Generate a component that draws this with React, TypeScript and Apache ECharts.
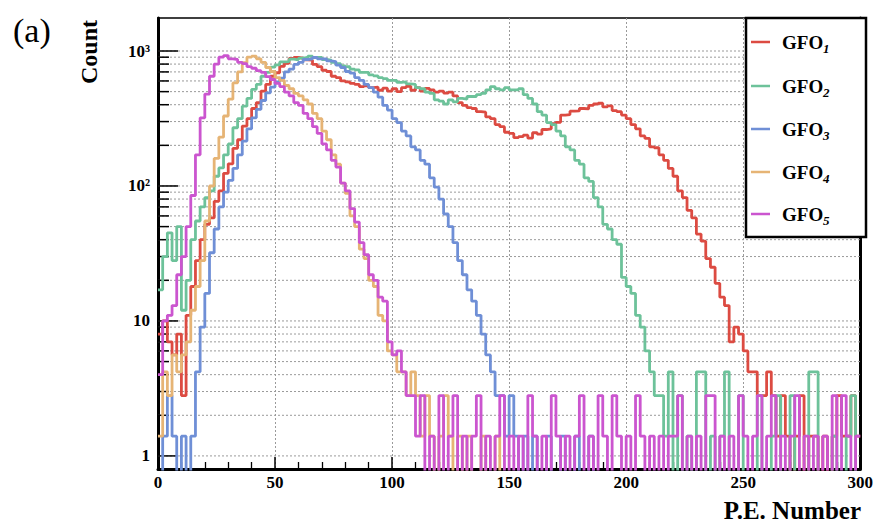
import React, { useEffect, useRef } from 'react';
import * as echarts from 'echarts';

// ---- axis ranges / ticks ----
const X_MIN = 0;
const X_MAX = 300;
const BIN_WIDTH = 2;
const Y_MIN = 0.8;
const Y_MAX = 1756;
const xTickInterval = 50;
const yGridValues = [1, 2, 3, 4, 5, 6, 7, 8, 9, 10, 20, 30, 40, 50, 60, 70, 80, 90, 100, 200, 300, 400, 500, 600, 700, 800, 900, 1000];
const yDecades = [1, 10, 100, 1000];
const yTickLabels: Record<string, string> = { '1': '1', '10': '10', '100': '10²', '1000': '10³' };

// ---- series ----
const seriesSubscripts = ['1', '2', '3', '4', '5'];
const seriesColors = ['#dc4b42', '#6dc29a', '#6f8fd6', '#e6b475', '#cb55cf'];

// counts per 2-P.E. bin, bins start at 0, 2, 4, ... 298
const gfo1 = [
  8, 10, 7, 5.6, 8, 2.8, 11, 18, 28, 40,
  52, 58, 77, 92, 124, 146, 190, 220, 278, 315,
  375, 415, 505, 565, 650, 690, 770, 810, 880, 895,
  885, 860, 855, 795, 765, 720, 705, 650, 635, 600,
  590, 575, 565, 545, 552, 535, 540, 512, 530, 505,
  525, 500, 535, 548, 512, 535, 505, 528, 515, 495,
  505, 488, 495, 465, 415, 395, 380, 375, 355, 352,
  325, 315, 285, 275, 250, 245, 228, 232, 238, 226,
  248, 242, 262, 265, 290, 296, 335, 338, 358, 360,
  375, 372, 395, 405, 410, 385, 392, 362, 355, 335,
  315, 285, 265, 235, 225, 195, 192, 170, 155, 135,
  118, 92, 82, 66, 58, 44, 39, 29, 25, 19,
  15, 13, 7, 9, 8, 6, 4.2, 4.2, 2.8, 2.8,
  4.2, 2.8, 1.4, 2.8, 1.4, 0, 1.4, 2.8, 0, 1.4,
  1.4, 0, 1.4, 0, 1.4, 2.8, 1.4, 1.4, 2.8, 1.4,
];
const gfo2 = [
  17, 30, 45, 28, 50, 12, 20, 40, 55, 70,
  82, 92, 118, 136, 170, 205, 270, 315, 390, 445,
  520, 565, 650, 695, 760, 790, 830, 835, 870, 860,
  885, 895, 915, 895, 895, 865, 855, 825, 805, 775,
  765, 735, 725, 695, 695, 665, 655, 635, 625, 605,
  605, 585, 590, 570, 565, 535, 525, 495, 485, 435,
  425, 405, 435, 420, 445, 440, 460, 460, 475, 485,
  515, 545, 525, 515, 535, 515, 515, 525, 475, 445,
  405, 355, 335, 295, 285, 255, 235, 195, 185, 155,
  145, 115, 108, 82, 70, 52, 48, 40, 37, 21,
  18, 16, 11, 9, 6, 4.2, 2.8, 2.8, 1.4, 4.2,
  0, 2.8, 0, 1.4, 0, 4.2, 4.2, 0, 1.4, 0,
  1.4, 4.2, 0, 0, 2.8, 0, 0, 0, 2.8, 0,
  0, 1.4, 2.8, 0, 0, 2.8, 0, 0, 0, 4.2,
  4.2, 0, 0, 0, 1.4, 0, 0, 1.4, 2.8, 0,
];
const gfo3 = [
  0, 1.4, 2.8, 1.4, 0, 1.4, 0, 1.4, 4.2, 9,
  16, 32, 48, 70, 90, 110, 135, 170, 215, 265,
  320, 370, 430, 490, 540, 590, 630, 700, 735, 795,
  825, 865, 875, 895, 875, 875, 845, 835, 785, 755,
  705, 685, 635, 605, 565, 535, 495, 455, 395, 365,
  315, 295, 255, 235, 195, 185, 155, 145, 115, 98,
  80, 62, 50, 38, 28, 22, 17, 14, 11, 8,
  5.6, 4.2, 2.8, 2.8, 1.4, 2.8, 1.4, 0, 1.4, 0,
  1.4, 0, 0, 1.4, 0, 0, 1.4, 0, 0, 1.4,
  0, 0, 1.4, 0, 0, 0, 0, 0, 0, 0,
  0, 0, 0, 0, 0, 0, 0, 0, 0, 0,
  0, 0, 0, 0, 0, 0, 0, 0, 0, 0,
  0, 0, 0, 0, 0, 0, 0, 0, 0, 0,
  0, 0, 0, 0, 0, 0, 0, 0, 0, 0,
  0, 0, 0, 0, 0, 0, 0, 0, 0, 0,
];
const gfo4 = [
  1.4, 4.2, 2.8, 5.6, 4.2, 5.6, 7, 12, 18, 28,
  55, 100, 160, 230, 330, 440, 580, 700, 820, 900,
  915, 875, 825, 755, 705, 635, 605, 555, 525, 485,
  465, 435, 405, 345, 315, 255, 220, 170, 145, 105,
  88, 60, 50, 34, 29, 20, 18, 11, 10, 6,
  5.6, 4.2, 4.2, 2.8, 4.2, 2.8, 1.4, 2.8, 1.4, 0,
  1.4, 2.8, 1.4, 0, 1.4, 0, 1.4, 0, 0, 1.4,
  0, 0, 1.4, 0, 0, 0, 0, 0, 0, 0,
  0, 0, 0, 0, 0, 0, 0, 0, 0, 0,
  0, 0, 0, 0, 0, 0, 0, 0, 0, 0,
  0, 0, 0, 0, 0, 0, 0, 0, 0, 0,
  0, 0, 0, 0, 0, 0, 0, 0, 0, 0,
  0, 0, 0, 0, 0, 0, 0, 0, 0, 0,
  0, 0, 0, 0, 0, 0, 0, 0, 0, 0,
  0, 0, 0, 0, 0, 0, 0, 0, 0, 0,
];
const gfo5 = [
  4, 10, 11, 13, 22, 30, 50, 85, 170, 320,
  480, 650, 800, 900, 925, 875, 865, 825, 805, 765,
  745, 715, 695, 645, 615, 575, 545, 495, 465, 415,
  395, 345, 315, 275, 245, 205, 185, 155, 138, 105,
  92, 68, 54, 38, 31, 22, 20, 15, 14, 7,
  5.6, 6, 4.2, 2.8, 2.8, 1.4, 2.8, 0, 1.4, 0,
  2.8, 0, 1.4, 2.8, 0, 1.4, 0, 1.4, 2.8, 0,
  1.4, 0, 1.4, 2.8, 0, 1.4, 0, 1.4, 0, 2.8,
  1.4, 0, 1.4, 0, 2.8, 1.4, 0, 1.4, 0, 1.4,
  2.8, 0, 1.4, 0, 2.8, 1.4, 0, 2.8, 1.4, 0,
  1.4, 0, 2.8, 1.4, 0, 1.4, 0, 1.4, 0, 1.4,
  1.4, 2.8, 0, 1.4, 0, 1.4, 0, 2.8, 2.8, 0,
  1.4, 0, 1.4, 0, 2.8, 1.4, 0, 1.4, 2.8, 0,
  1.4, 2.8, 0, 1.4, 0, 1.4, 2.8, 0, 1.4, 0,
  1.4, 0, 1.4, 0, 2.8, 0, 2.8, 1.4, 0, 1.4,
];
const seriesValues = [gfo1, gfo2, gfo3, gfo4, gfo5];

const FONT = "'Liberation Serif', 'Times New Roman', serif";
const EMPTY_BIN = 0.3; // empty bins fall below the log axis (clipped), like ROOT

function toSteps(vals: number[]) {
  const pts: number[][] = vals.map((v, i) => [X_MIN + i * BIN_WIDTH, v > 0 ? v : EMPTY_BIN]);
  const last = vals[vals.length - 1];
  pts.push([X_MIN + vals.length * BIN_WIDTH, last > 0 ? last : EMPTY_BIN]);
  return pts;
}

function txt(x: number, y: number, text: string, size: number, weight: string, align: string, extra: any = {}, styleExtra: any = {}) {
  return {
    type: 'text', x, y, ...extra,
    style: { text, fill: '#000', fontFamily: FONT, fontSize: size, fontWeight: weight, align, verticalAlign: 'middle', ...styleExtra },
  };
}

export default function App() {
  const ref = useRef<HTMLDivElement>(null);
  useEffect(() => {
    if (!ref.current) return;
    const chart = echarts.init(ref.current, undefined, { renderer: 'svg' });

    const legendRows = [42, 86, 129, 172, 214];
    const legendGraphics: any[] = [
      {
        type: 'rect', z: 100,
        shape: { x: 746, y: 18, width: 120, height: 219 },
        style: { fill: '#fff', stroke: '#000', lineWidth: 2.5 },
      },
    ];
    seriesSubscripts.forEach((s, i) => {
      const y = legendRows[i];
      legendGraphics.push(
        { type: 'line', z: 101, shape: { x1: 751, y1: y, x2: 770, y2: y }, style: { stroke: seriesColors[i], lineWidth: 2.5 } },
        txt(782, y, 'GFO', 19, 'bold', 'left', { z: 101 }),
        txt(823, y + 6, s, 13, 'bold', 'left', { z: 101 }, { fontStyle: 'italic' }),
      );
    });

    const option: any = {
      animation: false,
      backgroundColor: '#fff',
      textStyle: { fontFamily: FONT },
      grid: {
        left: 158, right: 13, top: 18, bottom: 56,
        show: true, borderColor: '#000', borderWidth: 1.5, backgroundColor: 'transparent',
      },
      xAxis: {
        type: 'value', min: X_MIN, max: X_MAX, interval: xTickInterval,
        axisLine: { show: true, onZero: false, lineStyle: { color: '#000', width: 3 } },
        axisTick: { show: true, inside: true, length: 12, lineStyle: { color: '#000', width: 1.5 } },
        minorTick: { show: true, splitNumber: 5, length: 7, lineStyle: { color: '#000', width: 1.3 } },
        splitLine: { show: true, lineStyle: { color: '#9a9a9a', width: 1, type: [2, 2] } },
        axisLabel: { color: '#000', fontFamily: FONT, fontWeight: 'bold', fontSize: 17, margin: 5 },
      },
      yAxis: [
        {
          type: 'log', logBase: 10, min: Y_MIN, max: Y_MAX,
          axisLine: { show: true, onZero: false, lineStyle: { color: '#000', width: 3 } },
          axisTick: { show: false },
          splitLine: { show: false },
          axisLabel: {
            color: '#000', fontFamily: FONT, fontWeight: 'bold', fontSize: 17, margin: 8,
            formatter: (v: number) => yTickLabels[String(Number(v.toPrecision(6)))] ?? '',
          },
        },
        {
          type: 'log', logBase: 10, min: Y_MIN, max: Y_MAX, position: 'right',
          axisLine: { show: true, onZero: false, lineStyle: { color: '#000', width: 3 } },
          axisTick: { show: false }, axisLabel: { show: false }, splitLine: { show: false },
        },
      ],
      series: [
        {
          type: 'custom', silent: true, z: 1,
          data: yGridValues.map((v) => [X_MIN, v]),
          renderItem: (_p: any, api: any) => {
            const v = api.value(1);
            const a = api.coord([X_MIN, v]);
            const b = api.coord([X_MAX, v]);
            const major = yDecades.includes(v);
            return {
              type: 'group',
              children: [
                { type: 'line', shape: { x1: a[0], y1: a[1], x2: b[0], y2: b[1] }, style: { stroke: '#9a9a9a', lineWidth: 1, lineDash: [2, 2] } },
                { type: 'line', shape: { x1: a[0], y1: a[1], x2: a[0] + (major ? 20 : 11), y2: a[1] }, style: { stroke: '#000', lineWidth: 1.5 } },
              ],
            };
          },
        },
        ...seriesValues.map((vals, i) => ({
          name: 'GFO' + seriesSubscripts[i],
          type: 'line', step: 'end', clip: true, z: 3 + i,
          symbol: 'none', showSymbol: false,
          data: toSteps(vals),
          lineStyle: { color: seriesColors[i], width: 2.8 },
          itemStyle: { color: seriesColors[i] },
        })),
      ],
      graphic: [
        txt(13, 30, '(a)', 34, 'normal', 'left'),
        txt(89, 52, 'Count', 24, 'bold', 'center', { rotation: Math.PI / 2 }),
        txt(861, 510, 'P.E. Number', 25, 'bold', 'right'),
        ...legendGraphics,
      ],
    };
    chart.setOption(option);
    return () => chart.dispose();
  }, []);
  return <div ref={ref} style={{ position: 'fixed', left: 0, top: 0, width: 876, height: 525 }} />;
}
